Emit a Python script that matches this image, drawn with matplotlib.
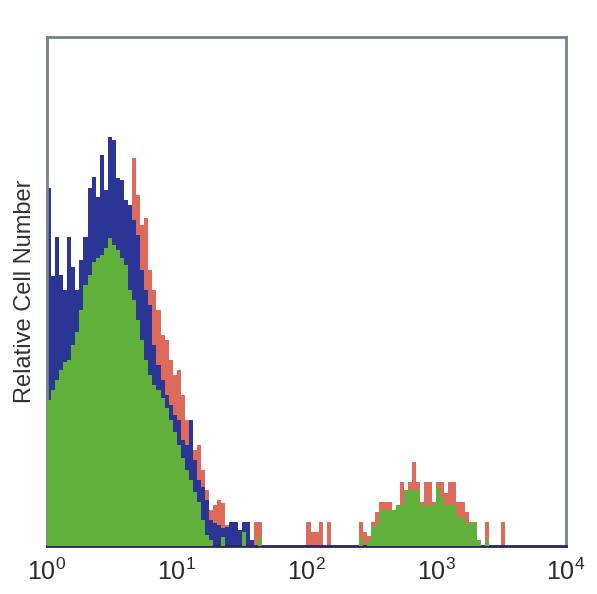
import numpy as np
import matplotlib
matplotlib.use('Agg')
import matplotlib.pyplot as plt

plt.rcParams['font.family'] = ['Liberation Sans', 'DejaVu Sans']
plt.rcParams['mathtext.fontset'] = 'custom'
plt.rcParams['mathtext.rm'] = 'Liberation Sans'
plt.rcParams['mathtext.it'] = 'Liberation Sans'

# histogram channels: 128 log-spaced bins from 10^0 to 10^4
edges = np.logspace(0, 4, 129)

# relative cell counts per channel (arbitrary units)
blue_counts = [358, 270, 309, 271, 256, 309, 279, 256, 286, 309,
               358, 369, 349, 391, 356, 409, 406, 368, 366, 346,
               341, 326, 311, 276, 256, 241, 201, 181, 166, 151,
               141, 131, 126, 106, 101, 126, 86, 66, 59, 46,
               26, 23, 21, 18, 19, 24, 24, 16, 24, 24,
               6, 0, 0, 0, 0, 0, 0, 0, 0, 0]
blue_counts += [0] * (92 - len(blue_counts)) + [24] + [0] * 35

red_counts = [126, 146, 166, 181, 196, 204, 211, 226, 246, 266,
              286, 301, 316, 326, 331, 321, 316, 336, 306, 326,
              341, 388, 351, 321, 328, 276, 256, 236, 211, 206,
              186, 171, 176, 151, 126, 106, 96, 101, 76, 56,
              36, 41, 46, 43, 21, 6, 24, 0, 24, 24,
              0, 24, 24, 0, 0, 0, 0, 0, 0, 0,
              0, 0, 0, 0, 24, 14, 14, 24, 0, 24,
              0, 0, 0, 0, 0, 0, 0, 24, 14, 10,
              24, 34, 44, 44, 44, 36, 36, 64, 44, 64,
              84, 64, 44, 64, 64, 44, 64, 64, 53, 64,
              64, 44, 44, 34, 24, 24, 6, 0, 24, 0,
              0, 0, 24, 0, 0, 0, 0, 0, 0, 0,
              0, 0, 0, 0, 0, 0, 0, 0]

green_counts = [146, 156, 166, 176, 184, 186, 201, 214, 236, 261,
                271, 284, 288, 291, 298, 308, 301, 296, 288, 281,
                256, 246, 226, 206, 186, 171, 161, 156, 148, 138,
                126, 114, 101, 88, 76, 66, 54, 44, 26, 11,
                6, 0, 0, 9, 0, 0, 0, 0, 14, 0,
                0, 0, 9, 0, 0, 0, 0, 0, 0, 0,
                0, 0, 0, 0, 0, 0, 0, 0, 0, 0,
                0, 0, 0, 0, 0, 0, 0, 9, 0, 5,
                19, 22, 36, 36, 36, 36, 41, 41, 56, 56,
                56, 56, 41, 41, 41, 41, 59, 49, 41, 41,
                41, 29, 29, 23, 23, 23, 6, 0, 6, 0,
                0, 0, 0, 0, 0, 0, 0, 0, 0, 0,
                0, 0, 0, 0, 0, 0, 0, 0]

tick_vals = [1, 10, 100, 1000, 10000]
tick_text = ['$10^{0}$', '$10^{1}$', '$10^{2}$', '$10^{3}$', '$10^{4}$']

red = '#d9503e'
blue = '#2a3596'
green = '#62b03c'
spine = '#74808c'

fig = plt.figure(figsize=(5.97, 5.94), dpi=100)
ax = fig.add_axes([0.0787, 0.0808, 0.8693, 0.857])

ax.stairs(red_counts, edges, fill=True, color=red, alpha=0.85, zorder=1)
ax.stairs(blue_counts, edges, fill=True, color=blue, zorder=2)
ax.stairs(green_counts, edges, fill=True, color=green, zorder=3)

ax.set_xscale('log')
ax.set_xlim(1, 10000)
ax.set_ylim(0, 509)
ax.set_xticks(tick_vals)
ax.set_xticklabels(tick_text, fontsize=18, color='#2a2a2a')
ax.minorticks_off()
ax.set_yticks([])
ax.tick_params(axis='x', length=0, pad=9)

for s in ax.spines.values():
    s.set_color(spine)
    s.set_linewidth(2)
ax.spines['bottom'].set_color('#2b2560')

ax.set_ylabel('Relative Cell Number', fontsize=17, color='#333333', labelpad=8)

fig.savefig('out.png', dpi=100, facecolor='white')
